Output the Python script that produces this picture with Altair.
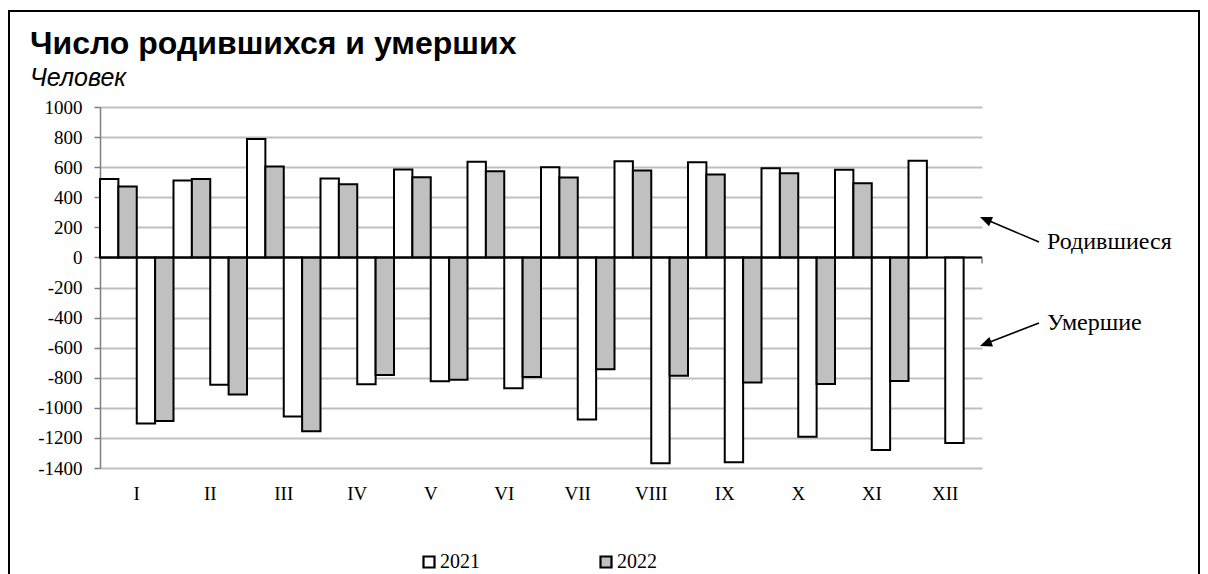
import altair as alt
import pandas as pd

months = ["I", "II", "III", "IV", "V", "VI", "VII", "VIII", "IX", "X", "XI", "XII"]
born_2021 = [522, 511, 787, 524, 584, 636, 600, 640, 633, 593, 582, 642]
born_2022 = [471, 522, 604, 487, 533, 573, 531, 578, 551, 560, 493, None]
died_2021 = [-1104, -847, -1057, -843, -823, -870, -1077, -1369, -1362, -1192, -1281, -1234]
died_2022 = [-1088, -912, -1155, -781, -814, -795, -744, -786, -832, -841, -821, None]
years = ["2021", "2022"]
y_ticks = [1000, 800, 600, 400, 200, 0, -200, -400, -600, -800, -1000, -1200, -1400]
title_text = "Число родившихся и умерших"
subtitle_text = "Человек"
ann_labels = ["Родившиеся", "Умершие"]

slots = ["b2021", "b2022", "d2021", "d2022"]
series = [("b2021", "2021", born_2021), ("b2022", "2022", born_2022),
          ("d2021", "2021", died_2021), ("d2022", "2022", died_2022)]
rows = []
for slot, yr, vals in series:
    for m, v in zip(months, vals):
        if v is not None:
            rows.append({"month": m, "slot": slot, "year": yr, "value": v})
df = pd.DataFrame(rows)

SERIF = "Liberation Serif"
SANS = "Liberation Sans"
W, H = 882, 361

y_axis = alt.Axis(title=None, values=y_ticks, labelExpr="'' + datum.value",
                  labelOverlap=False,
                  labelFont=SERIF, labelFontSize=19, labelColor="black",
                  labelPadding=12, tickSize=6, tickColor="#7f7f7f", tickWidth=1.5,
                  domainColor="#7f7f7f", domainWidth=1.5,
                  grid=True, gridColor="#c0c0c0", gridWidth=1.8)

bars = alt.Chart(df).mark_bar(stroke="black", strokeWidth=2).encode(
    x=alt.X("month:N", sort=months,
            scale=alt.Scale(paddingInner=0, paddingOuter=0),
            axis=alt.Axis(title=None, labelAngle=0, ticks=False, domain=False, grid=False,
                          labelFont=SERIF, labelFontSize=19, labelColor="black",
                          labelPadding=16)),
    xOffset=alt.XOffset("slot:N", sort=slots,
                        scale=alt.Scale(domain=slots, paddingInner=0, paddingOuter=0)),
    y=alt.Y("value:Q", scale=alt.Scale(domain=[-1400, 1000], nice=False, zero=False),
            axis=y_axis),
    fill=alt.Fill("year:N", scale=alt.Scale(domain=years, range=["#ffffff", "#c0c0c0"]),
                  legend=alt.Legend(title=None, orient="none", legendX=319, legendY=445,
                                    direction="horizontal", symbolType="square",
                                    symbolSize=121, symbolStrokeColor="black",
                                    symbolStrokeWidth=2.2, labelFont=SERIF, labelFontSize=20,
                                    labelColor="black", labelOffset=1, columnPadding=116)),
)

one = pd.DataFrame({"a": [0]})

zero_line = alt.Chart(one).mark_rule(color="black", strokeWidth=2).encode(
    y=alt.YDatum(0, axis=y_axis), x=alt.value(0), x2=alt.value(W))
end_tick = alt.Chart(one).mark_rule(color="#7f7f7f", strokeWidth=1.5).encode(
    x=alt.value(W), y=alt.YDatum(0, axis=y_axis), y2=alt.datum(-40))

title = alt.Chart(one).mark_text(text=title_text, font=SANS, fontSize=32, fontWeight="bold",
                                 align="left", baseline="alphabetic", color="black").encode(
    x=alt.value(-70), y=alt.value(-52.7))
subtitle = alt.Chart(one).mark_text(text=subtitle_text, font=SANS, fontSize=25,
                                    fontStyle="italic", align="left", baseline="alphabetic",
                                    color="black").encode(
    x=alt.value(-70), y=alt.value(-21.3))

ann_text = pd.DataFrame({"label": ann_labels, "ty": [135, 216]})
labels = alt.Chart(ann_text).mark_text(font=SERIF, fontSize=24, align="left",
                                       baseline="middle", color="black").encode(
    x=alt.value(947), y=alt.Y("ty:Q", scale=None), text="label:N")

arrow1 = alt.Chart(one).mark_rule(color="black", strokeWidth=1.5).encode(
    x=alt.value(939), y=alt.value(135), x2=alt.value(886), y2=alt.value(112.5))
arrow2 = alt.Chart(one).mark_rule(color="black", strokeWidth=1.5).encode(
    x=alt.value(939), y=alt.value(216), x2=alt.value(886), y2=alt.value(236.5))
head_shape = "M0,0L-0.42,1L0.42,1Z"
head1 = alt.Chart(one).mark_point(shape=head_shape, filled=True, fill="black", opacity=1,
                                  size=576, angle=293).encode(
    x=alt.value(880), y=alt.value(110))
head2 = alt.Chart(one).mark_point(shape=head_shape, filled=True, fill="black", opacity=1,
                                  size=576, angle=249).encode(
    x=alt.value(880), y=alt.value(239))

frame_l = alt.Chart(one).mark_rule(color="black", strokeWidth=2).encode(
    x=alt.value(-91), y=alt.value(-96), y2=alt.value(470))
frame_t = alt.Chart(one).mark_rule(color="black", strokeWidth=2).encode(
    x=alt.value(-92), x2=alt.value(1100), y=alt.value(-96))
frame_r = alt.Chart(one).mark_rule(color="black", strokeWidth=2).encode(
    x=alt.value(1099), y=alt.value(-96), y2=alt.value(470))

chart = alt.layer(
    bars, zero_line, end_tick, title, subtitle, labels, arrow1, arrow2, head1, head2,
    frame_l, frame_t, frame_r
).properties(
    width=W, height=H,
    padding={"left": 92, "top": 99, "right": 218, "bottom": 106},
    autosize=alt.AutoSizeParams(type="none"),
).configure(background="white").configure_view(stroke=None).configure_axisY(labelOverlap=False)

chart.save("out.html", embed_options={"renderer": "svg", "actions": False})
